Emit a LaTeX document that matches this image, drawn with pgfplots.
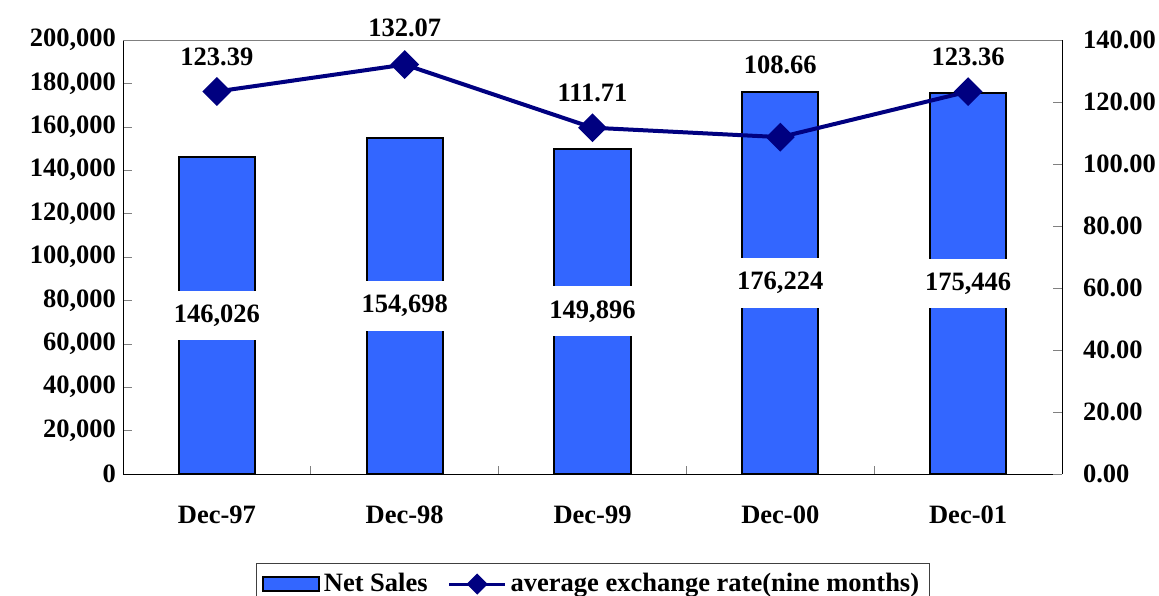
\documentclass[border=0pt]{standalone}
\usepackage{fontspec}
\setmainfont{Liberation Serif}
\usepackage{pgfplots}
\pgfplotsset{compat=1.18}
\definecolor{barblue}{HTML}{3366FF}
\definecolor{linenavy}{HTML}{000080}
\pgfplotsset{
  barleg/.style={legend image code/.code={\draw[fill=barblue, draw=black, line width=1bp] (0bp,-3.5bp) rectangle (28bp,3.5bp);}},
  lineleg/.style={legend image code/.code={\draw[##1, mark repeat=2, mark phase=2] plot coordinates {(0bp,0bp) (14bp,0bp) (28bp,0bp)};}},
}

\begin{document}
\begin{tikzpicture}[font=\fontsize{13.3}{15}\selectfont\bfseries]
\pgfplotsset{
  base/.style={
    scale only axis, width=469.5bp, height=217bp,
    xmin=-0.5, xmax=4.5,
    /pgf/number format/assume math mode=true,
    tick align=inside,
    major tick length=4.5bp,
    clip=false,
  }
}
% net sales (left axis)
\begin{axis}[base,
  axis x line*=bottom, axis y line*=left,
  ymin=0, ymax=200000, ytick={0,20000,40000,60000,80000,100000,120000,140000,160000,180000,200000},
  scaled y ticks=false,
  yticklabel style={/pgf/number format/fixed, /pgf/number format/1000 sep={,}},
  xtick={0,1,2,3,4}, xticklabels={Dec-97,Dec-98,Dec-99,Dec-00,Dec-01},
  major x tick style={draw=none},
  minor xtick={0.5,1.5,2.5,3.5},
  minor x tick style={gray, thin}, minor tick length=4bp,
  xticklabel style={yshift=-12.5bp},
]
\coordinate (sw) at (rel axis cs:0,0);
\addplot[ybar, bar width=0.405, fill=barblue, draw=black, line width=1bp]
  coordinates {(0,146026) (1,154698) (2,149896) (3,176224) (4,175446)};
% value labels at half height of each bar
\addplot[draw=none, mark=none, point meta=explicit, nodes near coords,
  nodes near coords style={anchor=center, fill=white, text=black, inner xsep=1bp, inner ysep=7bp,
    /pgf/number format/fixed, /pgf/number format/1000 sep={,}}]
  coordinates {(0,73013) [146026] (1,77349) [154698] (2,74948) [149896] (3,88112) [176224] (4,87723) [175446]};
\end{axis}
% exchange rate (right axis)
\begin{axis}[base,
  axis y line*=right, axis x line*=top,
  x axis line style={gray}, xtick=\empty,
  ymin=0, ymax=140, ytick={0,20,40,60,80,100,120,140},
  yticklabel style={/pgf/number format/fixed, /pgf/number format/fixed zerofill,
    /pgf/number format/precision=2, xshift=7bp},
  legend style={at={(0.5,-0.205)}, anchor=north, legend columns=2, draw=darkgray,
    inner xsep=3bp, inner ysep=3bp, /tikz/every even column/.style={column sep=8bp}},
  legend cell align=left,
]
\addlegendimage{barleg}
\addlegendentry{Net Sales}
\addplot[forget plot, linenavy, line width=2bp, mark=square*, mark size=4.1bp, mark options={rotate=45}]
  coordinates {(0,123.39) (1,132.07) (2,111.71) (3,108.66) (4,123.36)};
% rate labels, placed above the points as in the source (Dec-00 moved clear of the bar)
\addplot[forget plot, draw=none, mark=none, point meta=explicit, nodes near coords,
  nodes near coords style={anchor=center, text=black,
    /pgf/number format/fixed, /pgf/number format/fixed zerofill, /pgf/number format/precision=2}]
  coordinates {(0,134.5) [123.39] (1,143.9) [132.07] (2,122.9) [111.71] (3,131.9) [108.66] (4,134.5) [123.36]};
\addlegendimage{linenavy, line width=1.5bp, mark=square*, mark size=3bp, mark options={rotate=45}, lineleg}
\addlegendentry{average exchange rate(nine months)}
\end{axis}
\pgfresetboundingbox
\useasboundingbox ([xshift=-61.5bp,yshift=-61bp]sw) rectangle ([xshift=518bp,yshift=237bp]sw);
\end{tikzpicture}
\end{document}
